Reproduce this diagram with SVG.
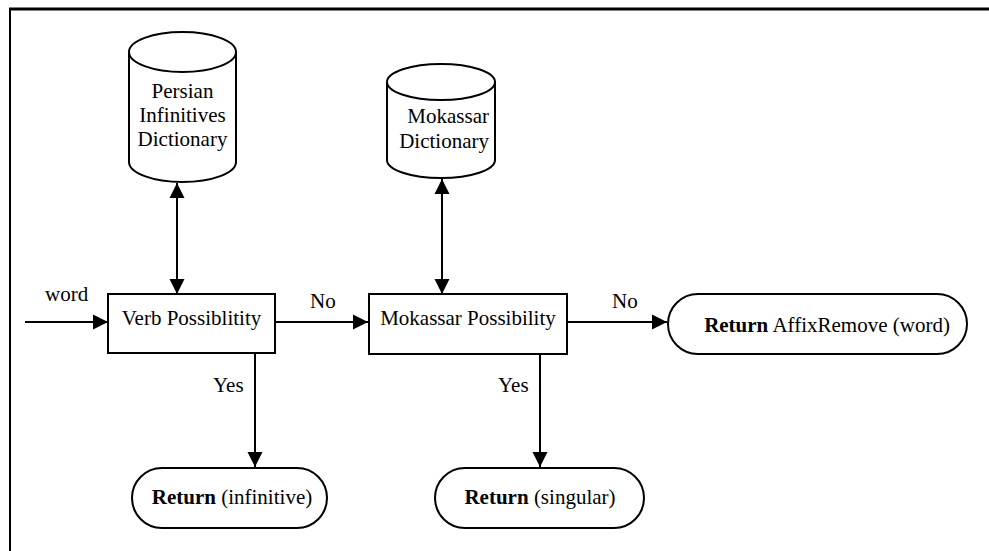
<svg xmlns="http://www.w3.org/2000/svg" width="989" height="551" viewBox="0 0 989 551">
<style>
.s{fill:#fff;stroke:#000;stroke-width:2}
.t{font-family:"Liberation Serif","Times New Roman",serif;font-size:21px;fill:#000}
.b{font-weight:bold}
.c{stroke:#000;stroke-width:2;fill:none}
</style>
<defs>
<marker id="ah" markerUnits="userSpaceOnUse" markerWidth="16" markerHeight="16" refX="15" refY="8" orient="auto-start-reverse">
<path d="M0,0.5 L15,8 L0,15.5 Z" fill="#000"/>
</marker>
</defs>
<rect width="989" height="551" fill="#fff"/>
<g id="frame">
<line x1="9" y1="9" x2="989" y2="9" stroke="#000" stroke-width="3"/>
<line x1="10" y1="8" x2="10" y2="551" stroke="#000" stroke-width="2"/>
</g>
<g id="persian-db">
<path class="s" d="M129,52 L129,162 A53.5,20 0 0 0 236,162 L236,52"/>
<ellipse class="s" cx="182.5" cy="52" rx="53.5" ry="20"/>
<text class="t" x="182.5" y="98" text-anchor="middle">Persian</text>
<text class="t" x="182.5" y="122" text-anchor="middle">Infinitives</text>
<text class="t" x="182.5" y="146" text-anchor="middle">Dictionary</text>
</g>
<g id="mokassar-db">
<path class="s" d="M387,82 L387,160 A54,18 0 0 0 495,160 L495,82"/>
<ellipse class="s" cx="441" cy="82" rx="54" ry="18"/>
<text class="t" x="489" y="123" text-anchor="end">Mokassar</text>
<text class="t" x="489" y="148" text-anchor="end">Dictionary</text>
</g>
<g id="verb">
<rect class="s" x="108" y="294" width="167" height="59"/>
<text class="t" x="191.5" y="325" text-anchor="middle">Verb Possiblitity</text>
</g>
<g id="mokassar">
<rect class="s" x="369" y="294" width="198" height="60"/>
<text class="t" x="468" y="325" text-anchor="middle">Mokassar Possibility</text>
</g>
<g id="affix">
<rect class="s" x="668" y="294" width="299" height="60" rx="30" ry="30"/>
<text class="t" x="827" y="332" text-anchor="middle"><tspan class="b">Return</tspan> AffixRemove (word)</text>
</g>
<g id="infinitive">
<rect class="s" x="132" y="468" width="195" height="60" rx="30" ry="30"/>
<text class="t" x="232" y="504" text-anchor="middle"><tspan class="b">Return</tspan> (infinitive)</text>
</g>
<g id="singular">
<rect class="s" x="435" y="468" width="209" height="60" rx="30" ry="30"/>
<text class="t" x="540" y="504" text-anchor="middle"><tspan class="b">Return</tspan> (singular)</text>
</g>
<g id="connectors">
<line class="c" x1="25" y1="322" x2="108" y2="322" marker-end="url(#ah)"/>
<line class="c" x1="177" y1="183" x2="177" y2="294" marker-start="url(#ah)" marker-end="url(#ah)"/>
<line class="c" x1="442" y1="179" x2="442" y2="294" marker-start="url(#ah)" marker-end="url(#ah)"/>
<line class="c" x1="275" y1="322" x2="368" y2="322" marker-end="url(#ah)"/>
<line class="c" x1="567" y1="322" x2="667" y2="322" marker-end="url(#ah)"/>
<line class="c" x1="255" y1="353" x2="255" y2="467" marker-end="url(#ah)"/>
<line class="c" x1="540" y1="354" x2="540" y2="467" marker-end="url(#ah)"/>
<text class="t" x="45" y="301">word</text>
<text class="t" x="310" y="308">No</text>
<text class="t" x="612" y="308">No</text>
<text class="t" x="213" y="392">Yes</text>
<text class="t" x="498" y="392">Yes</text>
</g>
</svg>
